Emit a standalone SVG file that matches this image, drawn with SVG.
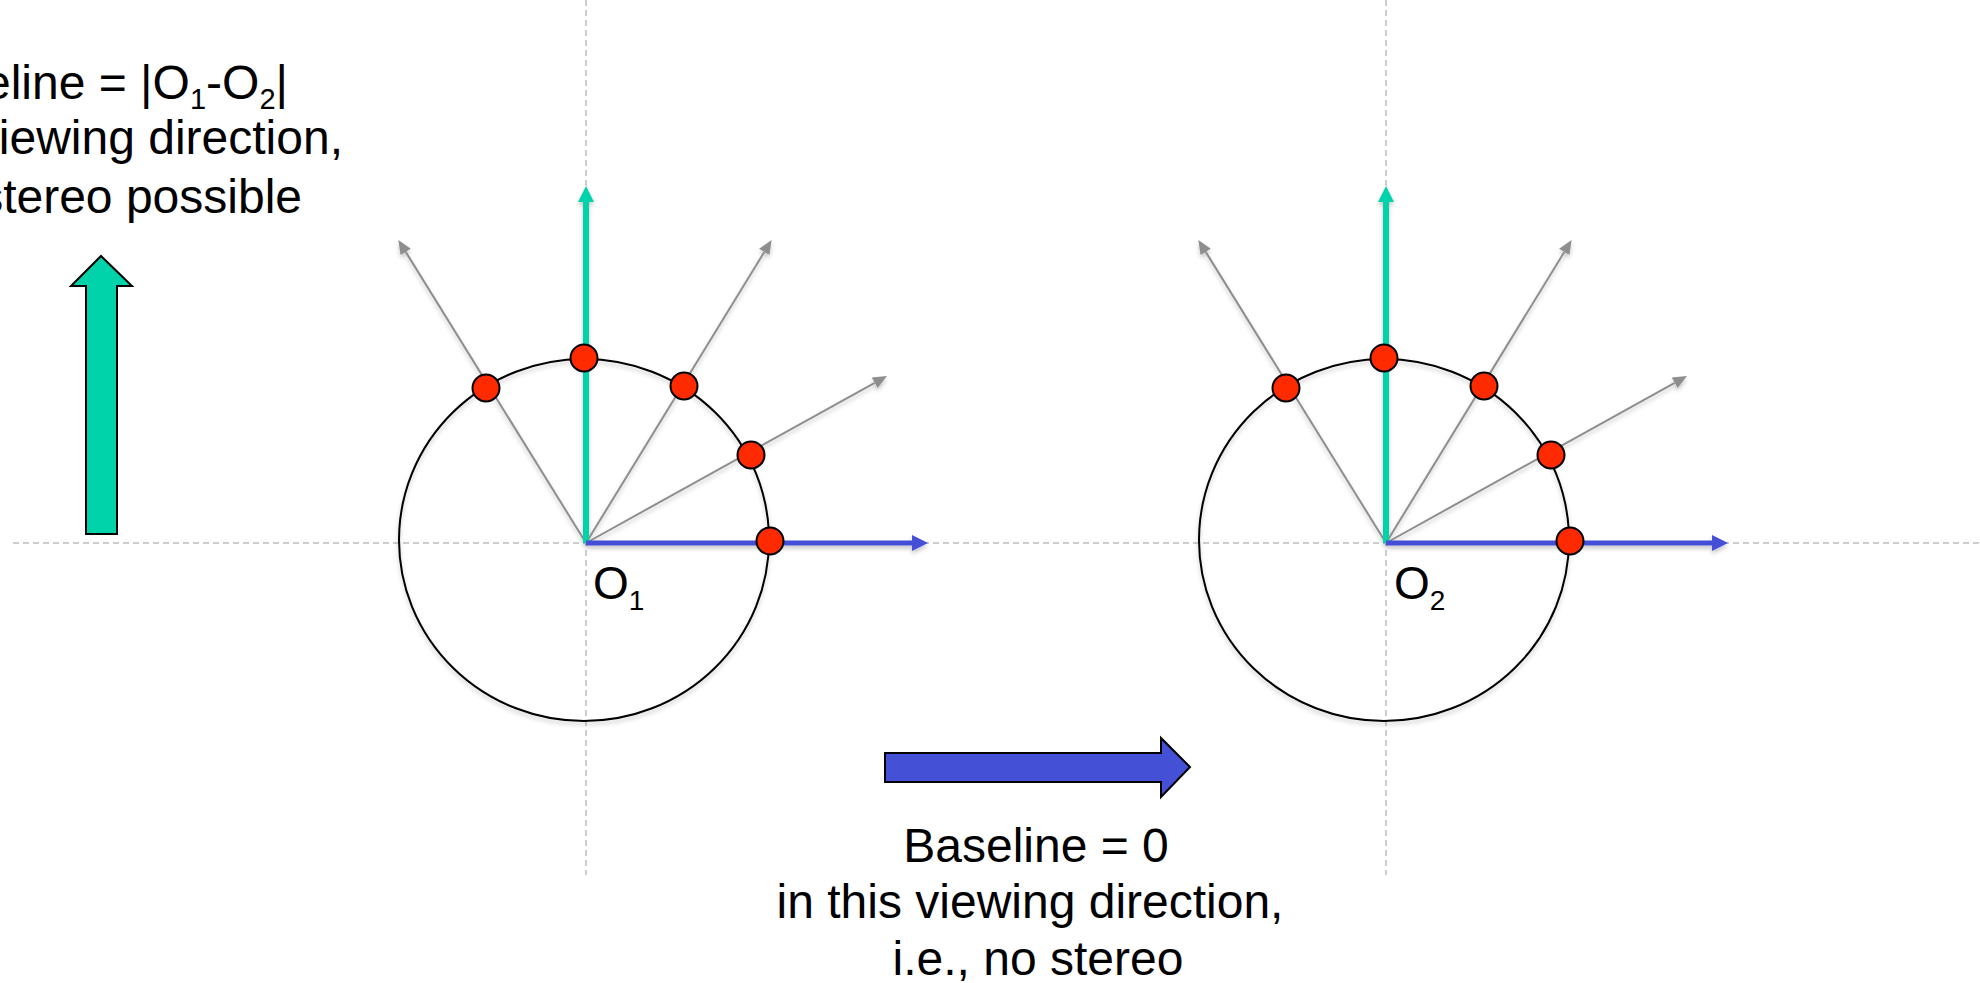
<svg xmlns="http://www.w3.org/2000/svg" width="1980" height="983" viewBox="0 0 1980 983">
<style>
  .axis { stroke:#bdbdbd; stroke-width:1.5; stroke-dasharray:6 4; fill:none; }
  .circ { fill:none; stroke:#000; stroke-width:2; }
  .ray { stroke:#8e8e8e; stroke-width:2; fill:none; }
  .teal { stroke:#00D2AA; stroke-width:6; fill:none; }
  .blue { stroke:#4450D6; stroke-width:5; fill:none; }
  .dot { fill:#FF2A00; stroke:#000; stroke-width:2; }
  .txt { font-family:"Liberation Sans", Arial, sans-serif; font-size:48px; fill:#000; }
  .lbl { font-family:"Liberation Sans", Arial, sans-serif; font-size:46px; fill:#000; }
</style>
<defs>
  <filter id="sh" x="-20%" y="-20%" width="140%" height="140%">
    <feDropShadow dx="0" dy="3" stdDeviation="2" flood-color="#000" flood-opacity="0.22"/>
  </filter>
  <marker id="mGray" viewBox="0 0 14 12" markerWidth="14" markerHeight="12" refX="0" refY="6" orient="auto" markerUnits="userSpaceOnUse">
    <path d="M0,0 L14,6 L0,12 z" fill="#8e8e8e"/>
  </marker>
  <marker id="mTeal" viewBox="0 0 16 16" markerWidth="16" markerHeight="16" refX="0" refY="8" orient="auto" markerUnits="userSpaceOnUse">
    <path d="M0,0 L16,8 L0,16 z" fill="#00D2AA"/>
  </marker>
  <marker id="mBlue" viewBox="0 0 16 16" markerWidth="16" markerHeight="16" refX="0" refY="8" orient="auto" markerUnits="userSpaceOnUse">
    <path d="M0,0 L16,8 L0,16 z" fill="#4450D6"/>
  </marker>
</defs>
<rect width="1980" height="983" fill="#fff"/>

<g id="axes">
  <line class="axis" x1="13" y1="543" x2="1980" y2="543"/>
  <line class="axis" x1="586" y1="0" x2="586" y2="875"/>
  <line class="axis" x1="1386" y1="0" x2="1386" y2="875"/>
</g>

<g id="camera1" transform="translate(586,543)">
  <ellipse class="circ" cx="-2" cy="-3" rx="185" ry="181" filter="url(#sh)"/>
  <g id="connectors1" filter="url(#sh)">
    <line class="ray" x1="0" y1="0" x2="-180.3" y2="-291.1" marker-end="url(#mGray)"/>
    <line class="ray" x1="0" y1="0" x2="178.3" y2="-291.1" marker-end="url(#mGray)"/>
    <line class="ray" x1="0" y1="0" x2="288.7" y2="-160.2" marker-end="url(#mGray)"/>
    <line class="teal" x1="0" y1="0" x2="0" y2="-341" marker-end="url(#mTeal)"/>
    <line class="blue" x1="0" y1="0" x2="326" y2="0" marker-end="url(#mBlue)"/>
  </g>
  <circle class="dot" cx="-100" cy="-155" r="13.5"/>
  <circle class="dot" cx="-2" cy="-185" r="13.5"/>
  <circle class="dot" cx="98" cy="-157" r="13.5"/>
  <circle class="dot" cx="165" cy="-88" r="13.5"/>
  <circle class="dot" cx="184" cy="-2" r="13.5"/>
  <text class="lbl" x="7" y="56">O<tspan font-size="28" dy="11">1</tspan></text>
</g>

<g id="camera2" transform="translate(1386,543)">
  <ellipse class="circ" cx="-2" cy="-3" rx="185" ry="181" filter="url(#sh)"/>
  <g id="connectors2" filter="url(#sh)">
    <line class="ray" x1="0" y1="0" x2="-180.3" y2="-291.1" marker-end="url(#mGray)"/>
    <line class="ray" x1="0" y1="0" x2="178.3" y2="-291.1" marker-end="url(#mGray)"/>
    <line class="ray" x1="0" y1="0" x2="288.7" y2="-160.2" marker-end="url(#mGray)"/>
    <line class="teal" x1="0" y1="0" x2="0" y2="-341" marker-end="url(#mTeal)"/>
    <line class="blue" x1="0" y1="0" x2="326" y2="0" marker-end="url(#mBlue)"/>
  </g>
  <circle class="dot" cx="-100" cy="-155" r="13.5"/>
  <circle class="dot" cx="-2" cy="-185" r="13.5"/>
  <circle class="dot" cx="98" cy="-157" r="13.5"/>
  <circle class="dot" cx="165" cy="-88" r="13.5"/>
  <circle class="dot" cx="184" cy="-2" r="13.5"/>
  <text class="lbl" x="8" y="56">O<tspan font-size="28" dy="11">2</tspan></text>
</g>

<g id="label-left">
  <text class="txt" x="288" y="99" text-anchor="end">eline = |O<tspan font-size="29" dy="10">1</tspan><tspan dy="-10">-O</tspan><tspan font-size="29" dy="10">2</tspan><tspan dy="-10">|</tspan></text>
  <text class="txt" x="343" y="154" text-anchor="end">viewing direction,</text>
  <text class="txt" x="302" y="213" text-anchor="end">stereo possible</text>
</g>

<g id="arrow-teal">
  <polygon points="101,256 132,286 117,286 117,534 86,534 86,286 71,286" fill="#00D2AA" stroke="#000" stroke-width="2"/>
</g>

<g id="arrow-blue">
  <polygon points="885,753 1161,753 1161,738 1190,767 1161,797 1161,782 885,782" fill="#4450D6" stroke="#000" stroke-width="2"/>
</g>

<g id="label-bottom">
  <text class="txt" x="1036" y="862" text-anchor="middle">Baseline = 0</text>
  <text class="txt" x="1030" y="918" text-anchor="middle">in this viewing direction,</text>
  <text class="txt" x="1038" y="975" text-anchor="middle">i.e., no stereo</text>
</g>
</svg>
